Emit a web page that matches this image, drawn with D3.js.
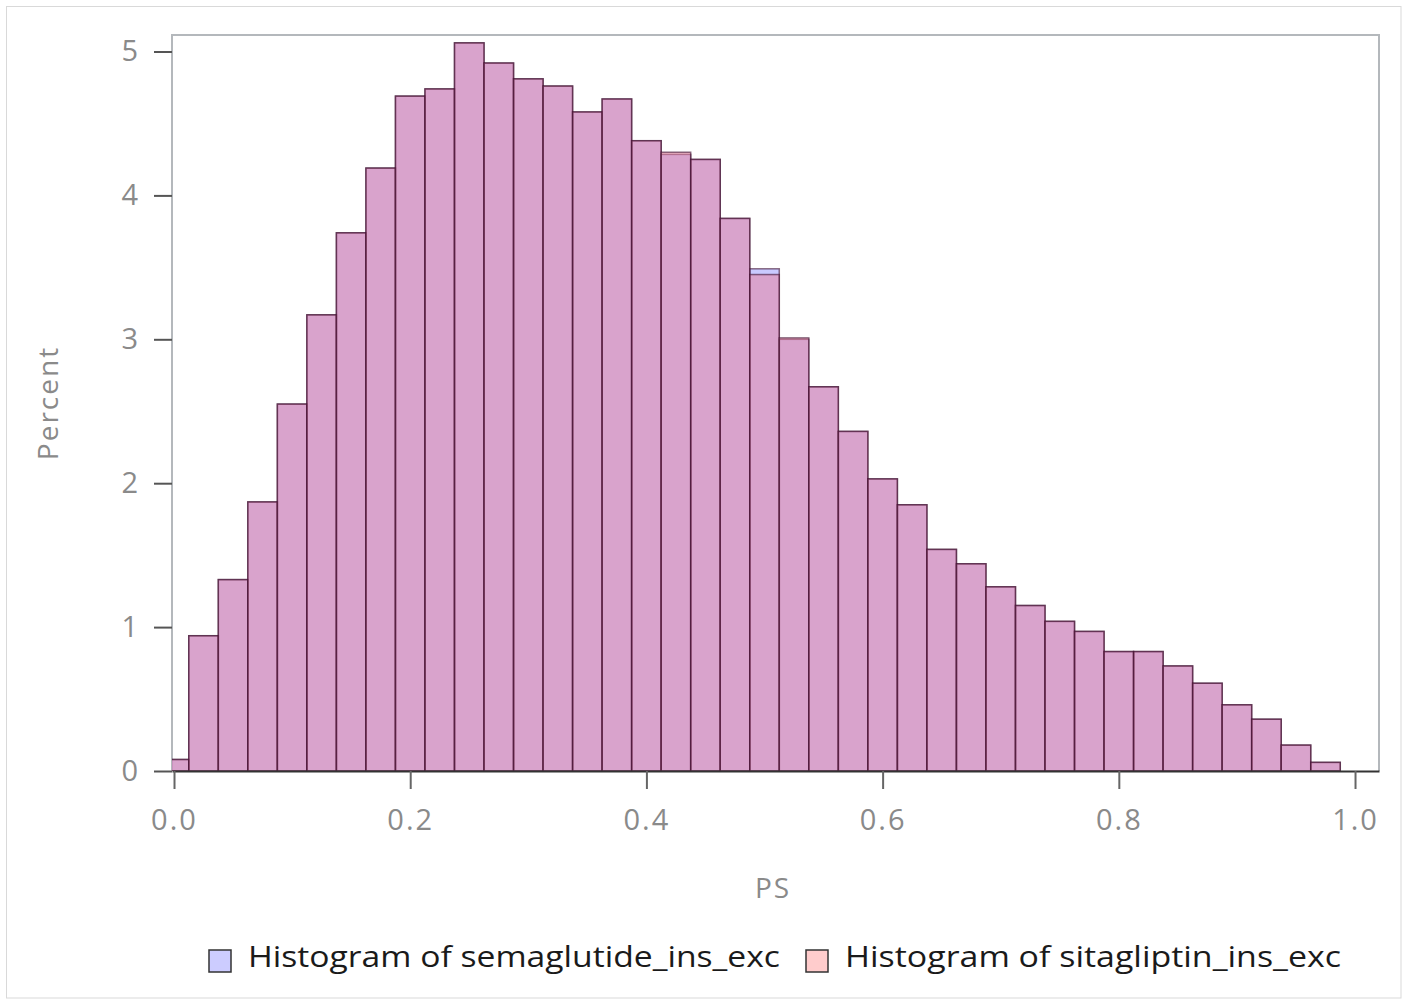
<!DOCTYPE html>
<html>
<head>
<meta charset="utf-8">
<script src="https://cdn.jsdelivr.net/npm/d3@7"></script>
<style>
  body { margin: 0; background: #fff; }
  text { font-family: "Open Sans", "Noto Sans", sans-serif; }
</style>
</head>
<body>
<div class="canvas"></div>
<script>
// bin centres (width 0.025)
const binCenters = d3.range(40).map(i => i * 0.025)
const binWidth = 0.025

// percent per bin
const semaglutide = [0.08, 0.94, 1.33, 1.87, 2.55, 3.17, 3.74, 4.19, 4.69, 4.74,
  5.06, 4.92, 4.81, 4.76, 4.58, 4.67, 4.38, 4.285, 4.25, 3.84,
  3.49, 3.00, 2.67, 2.36, 2.03, 1.85, 1.54, 1.44, 1.28, 1.15,
  1.04, 0.97, 0.83, 0.83, 0.73, 0.61, 0.46, 0.36, 0.18, 0.06]
const sitagliptin = [0.08, 0.94, 1.33, 1.87, 2.55, 3.17, 3.74, 4.19, 4.69, 4.74,
  5.06, 4.92, 4.81, 4.76, 4.58, 4.67, 4.38, 4.30, 4.25, 3.84,
  3.45, 3.01, 2.67, 2.36, 2.03, 1.85, 1.54, 1.44, 1.28, 1.15,
  1.04, 0.97, 0.83, 0.83, 0.73, 0.61, 0.46, 0.36, 0.18, 0.06]

const xTicks = [0, 0.2, 0.4, 0.6, 0.8, 1.0]
const yTicks = [0, 1, 2, 3, 4, 5]
const seriesNames = ['Histogram of semaglutide_ins_exc', 'Histogram of sitagliptin_ins_exc']

const W = 1405, H = 1002
const svg = d3.select('.canvas')
  .append('svg')
  .attr('width', W)
  .attr('height', H)

// outer border of the picture
svg.append('rect')
  .attr('x', 6.5).attr('y', 6.5)
  .attr('width', W - 4 - 6.5).attr('height', H - 4 - 6.5)
  .attr('fill', 'none')
  .attr('stroke', '#d9d9d9')

// plot frame
const frame = { left: 172, right: 1379, top: 35, bottom: 771 }

const x = d3.scaleLinear()
  .domain([-0.0017, 1.0203])
  .range([frame.left, frame.right])

const y = d3.scaleLinear()
  .domain([0, 5])
  .range([frame.bottom, frame.bottom - 5 * 143.9])

svg.append('defs').append('clipPath').attr('id', 'clip')
  .append('rect')
  .attr('x', frame.left).attr('y', frame.top)
  .attr('width', frame.right - frame.left)
  .attr('height', frame.bottom - frame.top)

// light gray frame (left, top, right)
svg.append('path')
  .attr('d', `M${frame.left},${frame.bottom}V${frame.top}H${frame.right}V${frame.bottom}`)
  .attr('fill', 'none')
  .attr('stroke', '#b4b8bc')
  .attr('stroke-width', 2)

const bars = svg.append('g').attr('clip-path', 'url(#clip)')

const layers = [
  { values: semaglutide, fill: '#9696ff', opacity: 0.5 },
  { values: sitagliptin, fill: '#e87c99', opacity: 0.5 }
]

layers.forEach(layer => {
  bars.append('g')
    .selectAll('rect')
    .data(binCenters.map((c, i) => ({ c, v: layer.values[i] })))
    .enter()
    .append('rect')
    .attr('x', d => x(d.c - binWidth / 2))
    .attr('y', d => y(d.v))
    .attr('width', d => x(d.c + binWidth / 2) - x(d.c - binWidth / 2))
    .attr('height', d => y(0) - y(d.v))
    .attr('fill', layer.fill)
    .attr('fill-opacity', layer.opacity)
    .attr('stroke', '#3e0f30')
    .attr('stroke-opacity', 0.6)
    .attr('stroke-width', 1.5)
})

// x axis
const xAxis = svg.append('g')
  .attr('transform', `translate(0, ${frame.bottom})`)
  .call(d3.axisBottom(x).tickValues(xTicks).tickFormat(d3.format('.1f'))
    .tickSizeInner(18).tickSizeOuter(0).tickPadding(20))
xAxis.select('.domain').attr('stroke', '#333').attr('stroke-width', 2)
xAxis.selectAll('.tick line').attr('stroke', '#666').attr('stroke-width', 2)
xAxis.selectAll('.tick text')
  .attr('fill', '#8a8a8a')
  .style('font-size', '29px')
  .style('letter-spacing', '2px')
  .style('font-family', '"Open Sans", sans-serif')

// y axis
const yAxis = svg.append('g')
  .attr('transform', `translate(${frame.left}, 0)`)
  .call(d3.axisLeft(y).tickValues(yTicks).tickFormat(d3.format('d'))
    .tickSizeInner(18).tickSizeOuter(0).tickPadding(16))
yAxis.select('.domain').remove()
yAxis.selectAll('.tick line').attr('stroke', '#555').attr('stroke-width', 2)
yAxis.selectAll('.tick text')
  .attr('fill', '#8a8a8a')
  .style('font-size', '29px')
  .style('font-family', '"Open Sans", sans-serif')

// axis titles
svg.append('text')
  .attr('x', 773).attr('y', 898)
  .attr('text-anchor', 'middle')
  .attr('fill', '#8a8a8a')
  .style('font-size', '28px')
  .style('letter-spacing', '2px')
  .text('PS')

svg.append('text')
  .attr('transform', 'translate(58, 403) rotate(-90)')
  .attr('text-anchor', 'middle')
  .attr('fill', '#8a8a8a')
  .style('font-size', '28px')
  .style('letter-spacing', '2px')
  .text('Percent')

// legend
const legendX = [209, 806]
const legendLen = [532, 496]
const legendFill = ['#ccccff', '#ffcccc']
const legend = svg.append('g')
seriesNames.forEach((name, i) => {
  legend.append('rect')
    .attr('x', legendX[i]).attr('y', 950)
    .attr('width', 22).attr('height', 22)
    .attr('fill', legendFill[i])
    .attr('stroke', '#333')
    .attr('stroke-width', 1.5)
  legend.append('text')
    .attr('x', legendX[i] + 39).attr('y', 967)
    .attr('fill', '#1a1a1a')
    .attr('textLength', legendLen[i])
    .attr('lengthAdjust', 'spacingAndGlyphs')
    .style('font-size', '30px')
    .text(name)
})
</script>
</body>
</html>
